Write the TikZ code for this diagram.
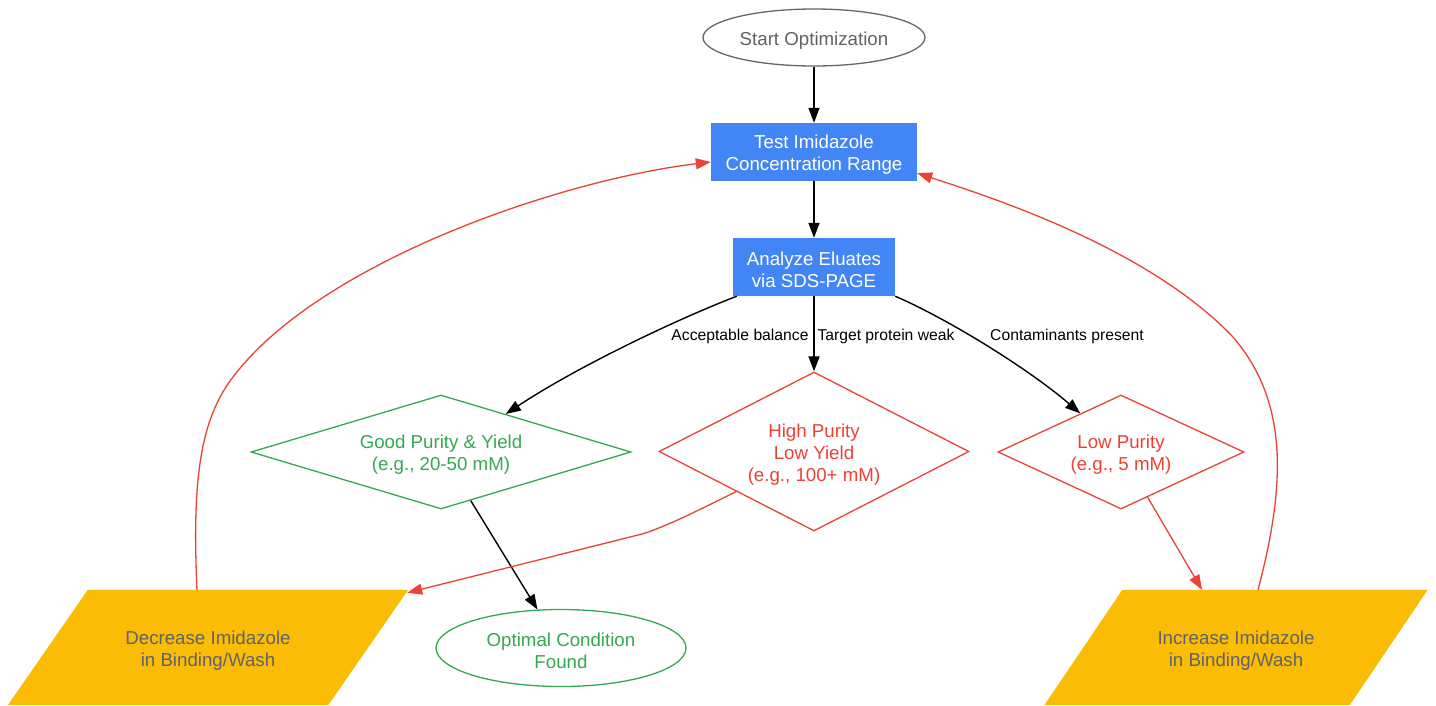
\documentclass[tikz,border=0pt]{standalone}
\usepackage{fontspec}
\setmainfont{Liberation Sans}
\usetikzlibrary{shapes.geometric,arrows.meta,calc}
\definecolor{gblue}{HTML}{4285F4}
\definecolor{gred}{HTML}{EA4335}
\definecolor{ggreen}{HTML}{34A853}
\definecolor{gyellow}{HTML}{FBBC05}
\definecolor{ggray}{HTML}{5F6368}
\definecolor{eborder}{HTML}{666666}
\newcommand{\tstrut}{\rule{0pt}{19pt}}
\tikzset{
  nodefont/.style={font=\fontsize{18.7}{22}\selectfont},
  termnode/.style={ellipse,draw,line width=1.3pt,inner sep=0pt,nodefont,align=center},
  procbox/.style={rectangle,fill=gblue,text=white,inner sep=0pt,nodefont,align=center,minimum height=58pt},
  decision/.style={diamond,draw,line width=1.3pt,inner sep=0pt,nodefont,align=center,fill=white},
  actionbox/.style={rectangle,inner sep=0pt,nodefont,align=center,text=ggray,minimum height=115pt},
  edgelabel/.style={font=\fontsize{15.7}{18}\selectfont,text=black,inner sep=1pt},
  blackedge/.style={line width=1.4pt,draw=black,-{Triangle[length=15pt,width=11pt]}},
  rededge/.style={line width=1.3pt,draw=gred,-{Triangle[length=15pt,width=11pt]}}
}
\begin{document}
\begin{tikzpicture}[x=1pt,y=-1pt]
\fill[white] (0,0) rectangle (1436,705);
\useasboundingbox (0,0) rectangle (1436,705);

% action boxes (parallelograms)
\coordinate (decc) at (208,647.5);
\coordinate (incc) at (1236,647.5);
\path (decc) node[rectangle,minimum width=320pt,minimum height=115pt,inner sep=0pt] (decshape) {};
\path (incc) node[rectangle,minimum width=305pt,minimum height=115pt,inner sep=0pt] (incshape) {};
\fill[gyellow] ([xshift=40pt]decshape.north west) -- ([xshift=40pt]decshape.north east) -- ([xshift=-40pt]decshape.south east) -- ([xshift=-40pt]decshape.south west) -- cycle;
\fill[gyellow] ([xshift=39pt]incshape.north west) -- ([xshift=39pt]incshape.north east) -- ([xshift=-39pt]incshape.south east) -- ([xshift=-39pt]incshape.south west) -- cycle;
\node[actionbox,minimum width=320pt] (dec) at (decc) {\tstrut Decrease Imidazole\\in Binding/Wash};
\node[actionbox,minimum width=305pt] (inc) at (incc) {\tstrut Increase Imidazole\\in Binding/Wash};

% nodes
\node[termnode,draw=eborder,text=ggray,minimum width=222pt,minimum height=57pt] (start) at (814,37.5) {\tstrut Start Optimization};
\node[procbox,minimum width=206pt] (test) at (814,152) {\tstrut Test Imidazole\\Concentration Range};
\node[procbox,minimum width=162pt] (ana) at (814,267) {\tstrut Analyze Eluates\\via SDS-PAGE};
\node[decision,draw=ggreen,text=ggreen,minimum width=380pt,minimum height=114pt,aspect=3.33] (good) at (441,452) {\tstrut Good Purity \& Yield\\(e.g., 20-50 mM)};
\node[decision,draw=gred,text=gred,minimum width=310pt,minimum height=159pt,aspect=1.95] (high) at (814,451.5) {\rule{0pt}{20pt}High Purity\\Low Yield\\(e.g., 100+ mM)};
\node[decision,draw=gred,text=gred,minimum width=246pt,minimum height=114pt,aspect=2.16] (low) at (1121,452) {\tstrut Low Purity\\(e.g., 5 mM)};
\node[termnode,draw=ggreen,text=ggreen,minimum width=250pt,minimum height=77pt] (opt) at (561,648) {\tstrut Optimal Condition\\Found};

% helper coordinates
\coordinate (goodin) at ($(good.north)!0.34!(good.east)$);
\coordinate (lowin) at ($(low.north)!0.33!(low.west)$);
\coordinate (decin) at ([xshift=39pt,yshift=-3pt]dec.north east);
\coordinate (decout) at ([xshift=-11pt]dec.north);
\coordinate (incin) at ([xshift=-34pt]inc.north);
\coordinate (incout) at ([xshift=22pt]inc.north);
\coordinate (testL) at ([yshift=-10pt]test.west);
\coordinate (testR) at ([yshift=8pt]test.south east);

% black edges
\draw[blackedge] (start) -- (test);
\draw[blackedge] (test) -- (ana);
\draw[blackedge] ([xshift=4pt]ana.south west) .. controls (680,318) and (580,365) .. (goodin);
\draw[blackedge] (ana) -- (high);
\draw[blackedge] (ana.south east) .. controls (950,320) and (1030,370) .. (lowin);
\draw[blackedge] (good) -- (opt);

% edge labels
\node[edgelabel] (lab1) at (740,336) {Acceptable balance};
\node[edgelabel] (lab2) at (886,336) {Target protein weak};
\node[edgelabel] (lab3) at (1067,336) {Contaminants present};

% red edges
\draw[rededge] (high.south west) .. controls (695,512) and (665,527) .. (642,534) -- (decin);
\draw[rededge] (low) -- (incin);
\draw[rededge] (decout) .. controls (192,480) and (200,420) .. (233,377) .. controls (320,262) and (560,180) .. (testL);
\draw[rededge] (incout) .. controls (1287,480) and (1287,400) .. (1233,337) .. controls (1150,250) and (1000,200) .. (testR);
\end{tikzpicture}
\end{document}
